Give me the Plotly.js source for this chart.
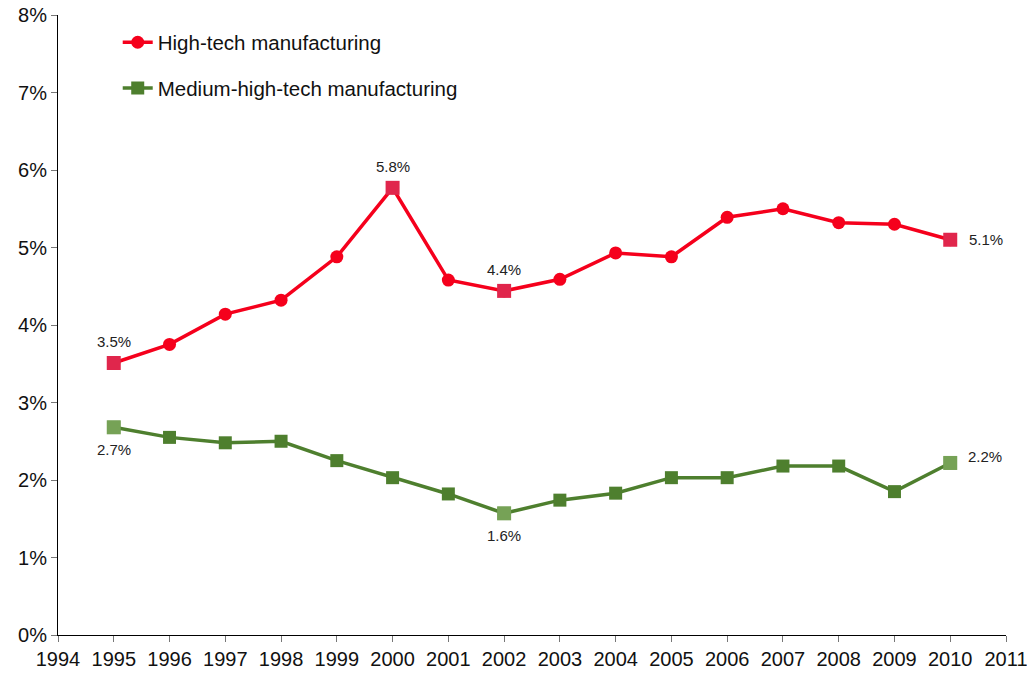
<!DOCTYPE html>
<html>
<head>
<meta charset="utf-8">
<script src="https://cdn.plot.ly/plotly-3.0.1.min.js"></script>
<style>html,body{margin:0;padding:0;background:#fff;}#chart{width:1027px;height:673px;}</style>
</head>
<body>
<div id="chart"></div>
<script>
const years = [1995,1996,1997,1998,1999,2000,2001,2002,2003,2004,2005,2006,2007,2008,2009,2010];
const highTech = [3.51,3.75,4.14,4.32,4.88,5.77,4.58,4.44,4.59,4.93,4.88,5.39,5.50,5.32,5.30,5.10];
const mediumHighTech = [2.68,2.55,2.48,2.50,2.25,2.03,1.82,1.57,1.74,1.83,2.03,2.03,2.18,2.18,1.85,2.22];
const highTechLabels = ['3.5%','','','','','5.8%','','4.4%','','','','','','','','5.1%'];
const mediumLabels = ['2.7%','','','','','','','1.6%','','','','','','','','2.2%'];
const highlightYears = [1995,2000,2002,2010];
const mediumHighlightYears = [1995,2002,2010];

const FONT = 'Liberation Sans, Arial, Helvetica, sans-serif';
const RED = '#f5001c', RED_HI = '#e0264c';
const GREEN = '#4e7f2e', GREEN_HI = '#76a256';

const hiIdx = years.map((y,i) => highlightYears.includes(y) ? i : -1).filter(i => i >= 0);
const medIdx = years.map((y,i) => mediumHighlightYears.includes(y) ? i : -1).filter(i => i >= 0);

const traces = [
  {
    x: years, y: highTech, name: 'High-tech manufacturing',
    mode: 'lines+markers',
    line: {color: RED, width: 3.5},
    marker: {symbol: 'circle', size: 13, color: RED},
    cliponaxis: false, legendgroup: 'a'
  },
  {
    x: hiIdx.map(i => years[i]), y: hiIdx.map(i => highTech[i]),
    mode: 'markers', showlegend: false,
    marker: {symbol: 'square', size: 14, color: RED_HI},
    cliponaxis: false, legendgroup: 'a'
  },
  {
    x: years, y: mediumHighTech, name: 'Medium-high-tech manufacturing',
    mode: 'lines+markers',
    line: {color: GREEN, width: 3.5},
    marker: {symbol: 'square', size: 13, color: GREEN},
    cliponaxis: false, legendgroup: 'b'
  },
  {
    x: medIdx.map(i => years[i]), y: medIdx.map(i => mediumHighTech[i]),
    mode: 'markers', showlegend: false,
    marker: {symbol: 'square', size: 14, color: GREEN_HI},
    cliponaxis: false, legendgroup: 'b'
  }
];

const annotations = [];
const last = years.length - 1;
highTechLabels.forEach((t, i) => {
  if (!t) return;
  const a = {x: years[i], y: highTech[i], text: t, showarrow: false,
             font: {family: FONT, size: 15, color: '#222'}};
  if (i === last) { a.xanchor = 'left'; a.xshift = 17; a.yanchor = 'middle'; }
  else { a.xanchor = 'center'; a.yanchor = 'middle'; a.yshift = 21; }
  annotations.push(a);
});
mediumLabels.forEach((t, i) => {
  if (!t) return;
  const a = {x: years[i], y: mediumHighTech[i], text: t, showarrow: false,
             font: {family: FONT, size: 15, color: '#222'}};
  if (i === last) { a.xanchor = 'left'; a.xshift = 16; a.yanchor = 'middle'; a.yshift = 6; }
  else { a.xanchor = 'center'; a.yanchor = 'middle'; a.yshift = -22; }
  annotations.push(a);
});

const layout = {
  width: 1027, height: 673,
  margin: {l: 58, r: 21, t: 15, b: 38},
  paper_bgcolor: '#fff', plot_bgcolor: '#fff',
  font: {family: FONT, color: '#111'},
  showlegend: true,
  annotations: annotations,
  legend: {x: 0.063, y: 0.988, xanchor: 'left', yanchor: 'top', bgcolor: 'rgba(0,0,0,0)',
           font: {size: 20.5, color: '#111'}, tracegroupgap: 16, traceorder: 'grouped'},
  xaxis: {
    range: [1994, 2011], dtick: 1, tick0: 1994, showgrid: false, zeroline: false,
    showline: true, linecolor: '#000', linewidth: 1,
    ticks: 'outside', ticklen: 6, tickcolor: '#777', tickwidth: 1,
    ticklabeloverflow: 'allow',
    tickfont: {size: 20, color: '#111'}, fixedrange: true
  },
  yaxis: {
    range: [0, 8], dtick: 1, showgrid: false, zeroline: false,
    showline: true, linecolor: '#000', linewidth: 1,
    ticks: 'outside', ticklen: 6, tickcolor: '#777', tickwidth: 1,
    ticklabeloverflow: 'allow',
    ticksuffix: '%', tickfont: {size: 20, color: '#111'}, fixedrange: true
  }
};

Plotly.newPlot('chart', traces, layout, {displayModeBar: false, staticPlot: true});
</script>
</body>
</html>
